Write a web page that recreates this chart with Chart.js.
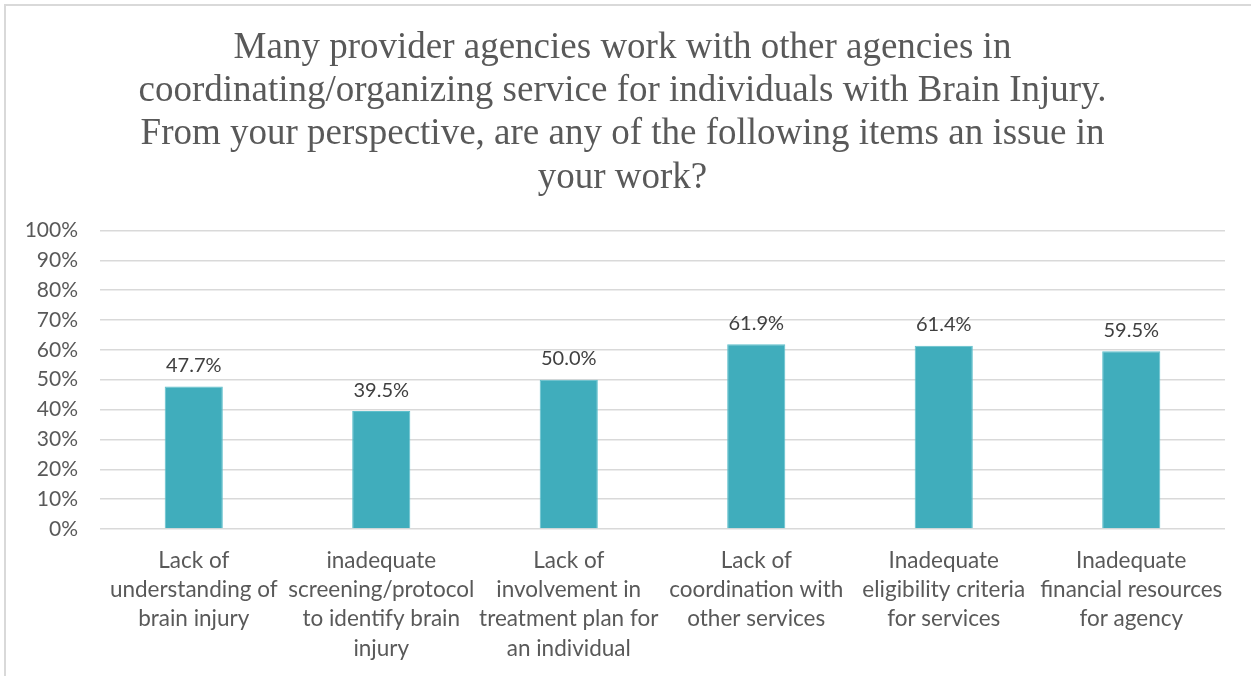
<!DOCTYPE html>
<html>
<head>
<meta charset="utf-8">
<title>Provider agency issues</title>
<script src="https://cdn.jsdelivr.net/npm/chart.js@4"></script>
<style>
  body { margin: 0; background: #fff; overflow: hidden; }
  #frame {
    position: absolute; left: 4px; top: 4px;
    width: 1300px; height: 720px;
    border-left: 2px solid #d9d9d9; border-top: 2px solid #d9d9d9;
  }
  #wrap { position: absolute; left: 0; top: 0; width: 1251px; height: 676px; }
</style>
</head>
<body>
<div id="frame"></div>
<div id="wrap"><canvas id="myChart"></canvas></div>

<script>
// chart data
let titleLines = [
  'Many provider agencies work with other agencies in',
  'coordinating/organizing service for individuals with Brain Injury.',
  'From your perspective, are any of the following items an issue in',
  'your work?'
];

let labels = [
  ['Lack of', 'understanding of', 'brain injury'],
  ['inadequate', 'screening/protocol', 'to identify brain', 'injury'],
  ['Lack of', 'involvement in', 'treatment plan for', 'an individual'],
  ['Lack of', 'coordination with', 'other services'],
  ['Inadequate', 'eligibility criteria', 'for services'],
  ['Inadequate', 'financial resources', 'for agency']
];

let values = [47.7, 39.5, 50.0, 61.9, 61.4, 59.5];

let yTicks = [0, 10, 20, 30, 40, 50, 60, 70, 80, 90, 100];

let labelFont = 'Lato, "Open Sans", sans-serif';

// percent text above each bar
let barValues = {
  id: 'barValues',
  afterDatasetsDraw(chart) {
    let ctx = chart.ctx;
    let meta = chart.getDatasetMeta(0);
    ctx.save();
    ctx.font = '20px ' + labelFont;
    ctx.fillStyle = '#404040';
    ctx.textAlign = 'center';
    ctx.textBaseline = 'bottom';
    meta.data.forEach((bar, i) => {
      ctx.fillText(values[i].toFixed(1) + '%', bar.x, bar.y - 11);
    });
    ctx.restore();
  }
};

let ctx = document.getElementById('myChart').getContext('2d');

new Chart(ctx, {
  type: 'bar',
  data: {
    labels: labels,
    datasets: [{
      data: values,
      backgroundColor: '#40adbc',
      borderColor: '#5fc0cc',
      borderWidth: 1,
      barPercentage: 0.31,
      categoryPercentage: 1
    }]
  },
  options: {
    responsive: true,
    maintainAspectRatio: false,
    animation: false,
    layout: { padding: { left: 20, right: 26, top: 5, bottom: 0 } },
    plugins: {
      legend: { display: false },
      tooltip: { enabled: false },
      title: {
        display: true,
        text: titleLines,
        color: '#595959',
        font: { family: '"Liberation Serif", "Times New Roman", serif', size: 37, weight: 'normal', lineHeight: 1.165 },
        padding: { top: 22, bottom: 31 }
      }
    },
    scales: {
      x: {
        grid: { display: false },
        border: { display: false },
        ticks: {
          color: '#595959',
          font: { family: labelFont, size: 22.5, lineHeight: 1.3 },
          padding: 9,
          maxRotation: 0,
          autoSkip: false
        },
        afterFit: (scale) => { scale.height = 147; }
      },
      y: {
        min: 0,
        max: 100,
        afterBuildTicks: (scale) => { scale.ticks = yTicks.map(v => ({ value: v })); },
        grid: { color: '#d9d9d9', lineWidth: 1.5, drawTicks: false },
        border: { display: false },
        ticks: {
          color: '#595959',
          font: { family: labelFont, size: 21 },
          padding: 22,
          callback: (v) => v + '%'
        },
        afterFit: (scale) => { scale.width = 80; }
      }
    }
  },
  plugins: [barValues]
});
</script>
</body>
</html>
